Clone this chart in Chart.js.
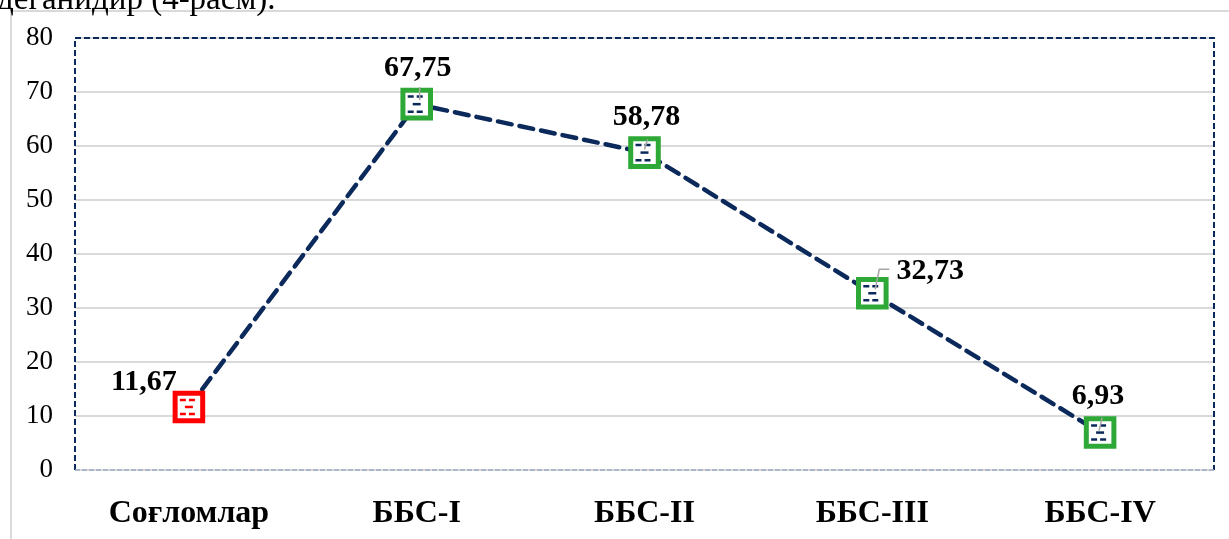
<!DOCTYPE html>
<html>
<head>
<meta charset="utf-8">
<script src="https://cdn.jsdelivr.net/npm/chart.js@4/dist/chart.umd.min.js"></script>
<style>
  html, body { margin: 0; padding: 0; background: #fff; overflow: hidden; }
  #wrap { position: relative; width: 1229px; height: 539px; }
  #cap { position: absolute; left: -3px; top: -18px; font-family: "Liberation Serif", serif; font-size: 33px; line-height: 32px; color: #000; white-space: nowrap; }
  canvas { position: absolute; left: 0; top: 0; }
</style>
</head>
<body>
<div id="wrap">
  <canvas id="c" width="1229" height="539"></canvas>
  <div id="cap">деганидир (4-расм).</div>
</div>
<script>
const categories = ["Соғломлар", "ББС-I", "ББС-II", "ББС-III", "ББС-IV"];
const values = [11.67, 67.75, 58.78, 32.73, 6.93];
const errors = [1.3, 1.4, 1.4, 1.3, 1.3];
const valueLabels = ["11,67", "67,75", "58,78", "32,73", "6,93"];
const yTicks = [0, 10, 20, 30, 40, 50, 60, 70, 80];

// styling (not data)
const labelOffsets = [[-45, -25], [1, -36], [2, -35], [58, -22], [-2, -36]];
const leaders = [null, [[3, -17], [3, -4]], [[3, -13], [0, -3]], [[17, -24], [7, -24], [3, -4]], [[2, -15], [-1, -2]]];
const markerColors = ["#ff0000", "#2ea836", "#2ea836", "#2ea836", "#2ea836"];
const innerColors = ["#ff0000", "#0b2a5b", "#0b2a5b", "#0b2a5b", "#0b2a5b"];

const decor = {
  id: 'decor',
  beforeDraw(chart) {
    const ctx = chart.ctx;
    ctx.save();
    ctx.fillStyle = '#fff';
    ctx.fillRect(0, 0, chart.width, chart.height);
    ctx.strokeStyle = '#d9d9d9';
    ctx.lineWidth = 2;
    ctx.beginPath();
    ctx.moveTo(11, 539); ctx.lineTo(11, 11); ctx.lineTo(1229, 11);
    ctx.stroke();
    ctx.restore();
  },
  afterDatasetsDraw(chart) {
    const ctx = chart.ctx;
    const a = chart.chartArea;
    const y = chart.scales.y;
    ctx.save();
    ctx.strokeStyle = '#0b2a5b';
    ctx.lineWidth = 2;
    ctx.setLineDash([6, 3]);
    ctx.beginPath();
    ctx.moveTo(a.left, a.bottom); ctx.lineTo(a.left, a.top); ctx.lineTo(a.right, a.top); ctx.lineTo(a.right, a.bottom);
    ctx.stroke();
    ctx.strokeStyle = '#9aabc8';
    ctx.lineWidth = 1.5;
    ctx.setLineDash([5, 2]);
    ctx.beginPath();
    ctx.moveTo(a.left, a.bottom); ctx.lineTo(a.right, a.bottom);
    ctx.stroke();
    ctx.setLineDash([]);

    const meta = chart.getDatasetMeta(0);
    meta.data.forEach((pt, i) => {
      const px = pt.x, py = pt.y;
      const yt = y.getPixelForValue(values[i] + errors[i]);
      const yb = y.getPixelForValue(values[i] - errors[i]);
      ctx.strokeStyle = innerColors[i];
      ctx.lineWidth = 2.5;
      ctx.setLineDash([6, 3]);
      ctx.beginPath();
      ctx.moveTo(px - 9, yt); ctx.lineTo(px + 9, yt);
      ctx.moveTo(px - 9, yb); ctx.lineTo(px + 9, yb);
      ctx.stroke();
      ctx.setLineDash([]);
      ctx.beginPath();
      ctx.moveTo(px - 4, py); ctx.lineTo(px + 4, py);
      ctx.stroke();
      const L = leaders[i];
      if (L) {
        ctx.strokeStyle = '#a6a6a6';
        ctx.lineWidth = 1.5;
        ctx.beginPath();
        L.forEach((p, k) => { if (k === 0) ctx.moveTo(px + p[0], py + p[1]); else ctx.lineTo(px + p[0], py + p[1]); });
        ctx.stroke();
      }
      ctx.fillStyle = '#000';
      ctx.font = 'bold 30px "Liberation Serif"';
      ctx.textAlign = 'center';
      ctx.textBaseline = 'middle';
      ctx.fillText(valueLabels[i], px + labelOffsets[i][0], py + labelOffsets[i][1]);
    });
    ctx.restore();
  }
};

new Chart(document.getElementById('c'), {
  type: 'line',
  data: {
    labels: categories,
    datasets: [{
      data: values,
      borderColor: '#0b2a5b',
      borderWidth: 4.5,
      borderDash: [14, 8],
      borderCapStyle: 'round',
      fill: false,
      tension: 0,
      pointStyle: 'rect',
      pointRadius: 19.5,
      pointHoverRadius: 19.5,
      pointBorderWidth: 5,
      pointBorderColor: markerColors,
      pointBackgroundColor: '#ffffff'
    }]
  },
  options: {
    responsive: false,
    animation: false,
    devicePixelRatio: 1,
    layout: { autoPadding: false, padding: { left: 0, top: 38, right: 15, bottom: 0 } },
    plugins: { legend: { display: false }, tooltip: { enabled: false } },
    scales: {
      x: {
        type: 'category',
        offset: true,
        grid: { display: false, drawTicks: false },
        border: { display: false },
        ticks: { color: '#000', font: { family: 'Liberation Serif', size: 32, weight: 'bold' }, padding: 25, maxRotation: 0 },
        afterFit(s) { s.height = 69; s.paddingLeft = 0; s.paddingRight = 0; }
      },
      y: {
        min: 0, max: 80,
        afterBuildTicks(s) { s.ticks = yTicks.map(v => ({ value: v })); },
        grid: { color: '#d9d9d9', lineWidth: 2, drawTicks: false },
        border: { display: false },
        ticks: { color: '#000', font: { family: 'Liberation Serif', size: 27 }, padding: 22 },
        afterFit(s) { s.width = 75; s.paddingTop = 0; s.paddingBottom = 0; }
      }
    }
  },
  plugins: [decor]
});
</script>
</body>
</html>
